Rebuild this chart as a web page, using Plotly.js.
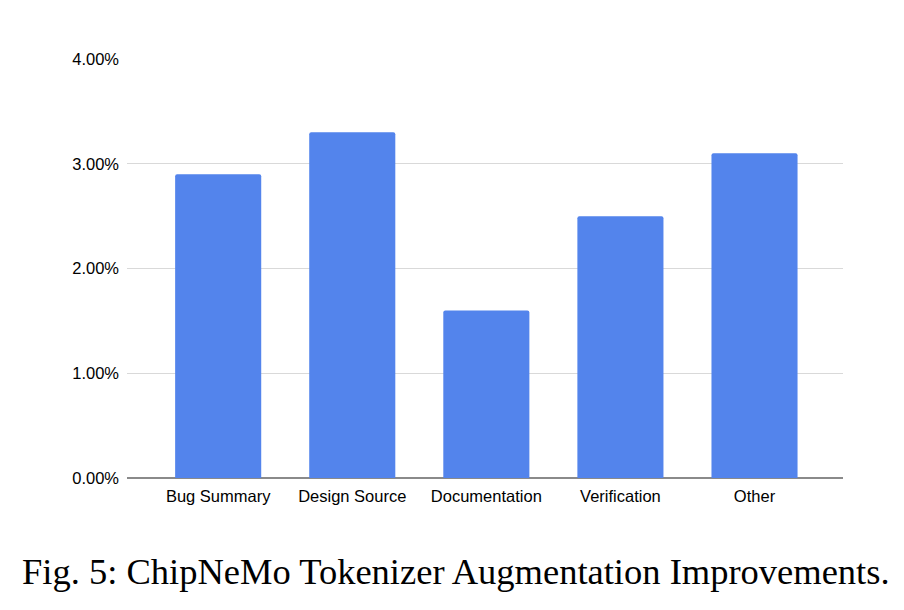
<!DOCTYPE html>
<html>
<head>
<meta charset="utf-8">
<script src="https://cdn.plot.ly/plotly-3.0.1.min.js"></script>
<style>html,body{margin:0;padding:0;background:#fff;}#chart{width:904px;height:610px;}</style>
</head>
<body>
<div id="chart"></div>
<script>
const categories = ["Bug Summary", "Design Source", "Documentation", "Verification", "Other"];
const improvements = [0.029, 0.033, 0.016, 0.025, 0.031];
const yTickVals = [0, 0.01, 0.02, 0.03, 0.04];
const yTickText = ["0.00%", "1.00%", "2.00%", "3.00%", "4.00%"];
const caption = "Fig. 5: ChipNeMo Tokenizer Augmentation Improvements.";

const trace = {
  type: "bar",
  x: categories,
  y: improvements,
  marker: {color: "#5384EC", cornerradius: 2},
  hoverinfo: "none"
};

const layout = {
  width: 904, height: 610,
  margin: {l: 127, r: 61, t: 59, b: 132},
  paper_bgcolor: "#fff", plot_bgcolor: "#fff",
  showlegend: false,
  bargap: 0.358,
  font: {family: "Liberation Sans, Arial, sans-serif", color: "#000", size: 17},
  xaxis: {
    type: "category",
    range: [-0.68, 4.66],
    showgrid: false, zeroline: false, showline: false,
    ticks: "", ticklabelstandoff: 6,
    tickfont: {size: 16.5, color: "#000"}
  },
  yaxis: {
    range: [0, 0.04],
    tickvals: yTickVals, ticktext: yTickText,
    showgrid: true, gridcolor: "#d9d9d9", gridwidth: 1,
    zeroline: true, zerolinecolor: "#8a8a8a", zerolinewidth: 1.5,
    showline: false, ticks: "", ticklabelstandoff: 7,
    tickfont: {size: 16.5, color: "#000"}
  },
  annotations: [{
    text: caption,
    xref: "paper", yref: "paper",
    x: 0.4595, y: -0.2243,
    xanchor: "center", yanchor: "middle",
    showarrow: false,
    font: {family: "Liberation Serif, Times New Roman, serif", size: 36.5, color: "#000"}
  }]
};

Plotly.newPlot("chart", [trace], layout, {staticPlot: true, displayModeBar: false});
</script>
</body>
</html>
